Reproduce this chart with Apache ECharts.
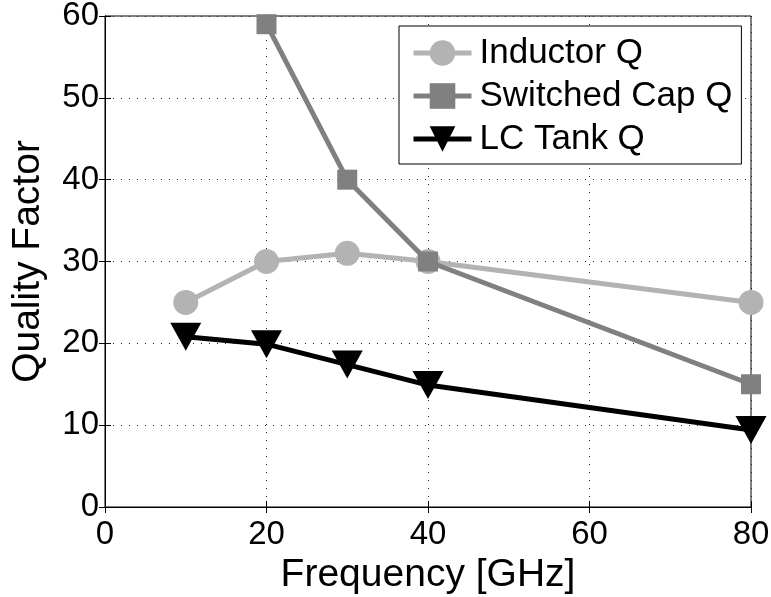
<!DOCTYPE html>
<html>
<head>
<meta charset="utf-8">
<script src="https://cdn.jsdelivr.net/npm/echarts@6/dist/echarts.min.js"></script>
<style>
html, body { margin: 0; padding: 0; background: #fff; }
#main { width: 771px; height: 597px; }
</style>
</head>
<body>
<div id="main"></div>
<script>
var freq = [10, 20, 30, 40, 80];
var inductor_q = [25, 30, 31, 30, 25];
var switched_cap_freq = [20, 30, 40, 80];
var switched_cap_q = [59, 40, 30, 15];
var lc_tank_q = [20.8, 19.9, 17.4, 14.9, 9.4];

var font = 'Liberation Sans, Arial, sans-serif';

function pairs(xs, ys) {
    var out = [];
    for (var i = 0; i < xs.length; i++) {
        out.push([xs[i], ys[i]]);
    }
    return out;
}

var chart = echarts.init(document.getElementById('main'));

var gridSplit = {
    show: true,
    lineStyle: { color: '#222', type: [1, 7], width: 1 }
};

chart.setOption({
    animation: false,
    backgroundColor: '#fff',
    grid: {
        left: 105,
        right: 20,
        top: 16,
        bottom: 90,
        outerBoundsMode: 'none',
        containLabel: false,
        show: true,
        borderColor: '#000',
        borderWidth: 1
    },
    legend: {
        left: 399,
        top: 26,
        orient: 'vertical',
        itemWidth: 58,
        itemHeight: 32,
        itemGap: 5,
        padding: [8, 9, 6, 12],
        backgroundColor: '#fff',
        borderColor: '#000',
        borderWidth: 1,
        borderRadius: 0,
        lineStyle: { width: 5 },
        textStyle: { fontFamily: font, fontSize: 35, lineHeight: 38, color: '#000', padding: [0, 0, 0, 3] },
        data: ['Inductor Q', 'Switched Cap Q', 'LC Tank Q']
    },
    xAxis: [
        {
            type: 'value',
            min: 0,
            max: 80,
            interval: 20,
            name: 'Frequency [GHz]',
            nameLocation: 'middle',
            nameGap: 47,
            nameTextStyle: { fontFamily: font, fontSize: 39, color: '#000' },
            axisLine: { show: true, onZero: false, lineStyle: { color: '#000', width: 1 } },
            axisTick: { show: true, inside: true, length: 6, lineStyle: { color: '#000' } },
            axisLabel: { fontFamily: font, fontSize: 33, color: '#000', margin: 11 },
            splitLine: gridSplit
        },
        {
            type: 'value',
            position: 'top',
            min: 0,
            max: 80,
            interval: 20,
            axisLine: { show: true, lineStyle: { color: '#000' } },
            axisTick: { show: true, inside: true, length: 6, lineStyle: { color: '#000' } },
            axisLabel: { show: false },
            splitLine: { show: false }
        }
    ],
    yAxis: [
        {
            type: 'value',
            min: 0,
            max: 60,
            interval: 10,
            name: 'Quality Factor',
            nameLocation: 'middle',
            nameGap: 57,
            nameTextStyle: { fontFamily: font, fontSize: 39, color: '#000' },
            axisLine: { show: true, onZero: false, lineStyle: { color: '#000', width: 1 } },
            axisTick: { show: true, inside: true, length: 6, lineStyle: { color: '#000' } },
            axisLabel: { fontFamily: font, fontSize: 33, color: '#000', margin: 6 },
            splitLine: gridSplit
        },
        {
            type: 'value',
            position: 'right',
            min: 0,
            max: 60,
            interval: 10,
            axisLine: { show: true, lineStyle: { color: '#000' } },
            axisTick: { show: true, inside: true, length: 6, lineStyle: { color: '#000' } },
            axisLabel: { show: false },
            splitLine: { show: false }
        }
    ],
    series: [
        {
            name: 'Inductor Q',
            type: 'line',
            data: pairs(freq, inductor_q),
            symbol: 'circle',
            symbolSize: 25,
            itemStyle: { color: '#b3b3b3' },
            lineStyle: { color: '#b3b3b3', width: 5 },
            z: 2
        },
        {
            name: 'Switched Cap Q',
            type: 'line',
            data: pairs(switched_cap_freq, switched_cap_q),
            symbol: 'rect',
            symbolSize: 20,
            itemStyle: { color: '#808080' },
            lineStyle: { color: '#808080', width: 5 },
            z: 3
        },
        {
            name: 'LC Tank Q',
            type: 'line',
            data: pairs(freq, lc_tank_q),
            symbol: 'triangle',
            symbolRotate: 180,
            symbolSize: [31, 28],
            itemStyle: { color: '#000' },
            lineStyle: { color: '#000', width: 5 },
            z: 4
        }
    ]
});
</script>
</body>
</html>
